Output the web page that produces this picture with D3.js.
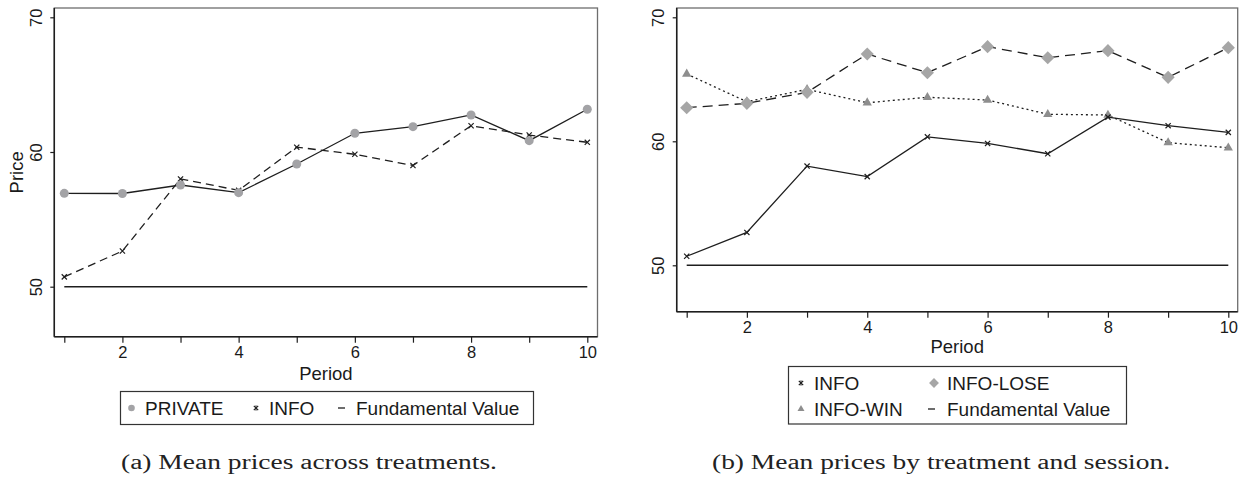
<!DOCTYPE html>
<html>
<head>
<meta charset="utf-8">
<script src="https://cdn.jsdelivr.net/npm/d3@7"></script>
<style>
  html, body { margin: 0; padding: 0; background: #fff; }
  svg { display: block; }
  text { font-family: "Liberation Sans", Arial, Helvetica, sans-serif; fill: #1a1a1a; }
  .cap { font-family: "Liberation Serif", "DejaVu Serif", serif; fill: #222; }
</style>
</head>
<body>
<svg id="chart" width="1252" height="480"></svg>
<script>
// ---------------- data ----------------
const periods = [1, 2, 3, 4, 5, 6, 7, 8, 9, 10];
const privateMeans = [56.93, 56.92, 57.55, 56.98, 59.11, 61.39, 61.88, 62.75, 60.84, 63.17];
const infoMeans    = [50.73, 52.65, 58.00, 57.15, 60.36, 59.83, 59.00, 61.95, 61.26, 60.72];
const infoWinMeans  = [65.43, 63.19, 64.19, 63.11, 63.55, 63.33, 62.18, 62.12, 59.89, 59.48];
const infoLoseMeans = [62.71, 63.06, 63.95, 67.04, 65.53, 67.63, 66.74, 67.31, 65.16, 67.55];
const fundamentalValue = 50;
const yTickValues = [50, 60, 70];
const xTickLabels = [2, 4, 6, 8, 10];
const legendA = ["PRIVATE", "INFO", "Fundamental Value"];
const legendB = ["INFO", "INFO-LOSE", "INFO-WIN", "Fundamental Value"];
const captions = ["(a) Mean prices across treatments.", "(b) Mean prices by treatment and session."];

// ---------------- styles ----------------
const INK = "#1e1e1e";
const GRAY_CIRCLE = "#a3a3a6";
const GRAY_DIAMOND = "#a6a6a6";
const GRAY_TRI = "#8e8e8e";
const LEG_FS = 19;

const svg = d3.select("#chart");

function xMarker(g, x, y, s) {
  g.append("path")
    .attr("d", `M${x - s},${y - s}L${x + s},${y + s}M${x - s},${y + s}L${x + s},${y - s}`)
    .attr("stroke", INK).attr("stroke-width", 1.2).attr("fill", "none");
}

function panel(cfg) {
  const g = svg.append("g");
  const x = d3.scaleLinear().domain([1, 10]).range([cfg.x1, cfg.x10]);
  const y = d3.scaleLinear().domain([50, 70]).range([cfg.y50, cfg.y70]);
  const f = cfg.frame;

  g.append("rect").attr("x", f.l).attr("y", f.t).attr("width", f.r - f.l).attr("height", f.b - f.t)
    .attr("fill", "none").attr("stroke", "#6e6e6e").attr("stroke-width", 1.3);

  const xAxis = d3.axisBottom(x).tickValues(periods).tickSize(6).tickSizeOuter(0)
    .tickFormat(d => xTickLabels.includes(d) ? d : "");
  const xa = g.append("g").attr("transform", `translate(0,${f.b})`).call(xAxis);
  xa.select(".domain").attr("d", `M${f.l},0H${f.r}`).attr("stroke", INK).attr("stroke-width", 1.5);
  xa.selectAll(".tick line").attr("stroke", INK).attr("stroke-width", 1.2);
  xa.selectAll(".tick text").attr("font-size", 16.5).attr("font-family", "Liberation Sans, Arial, sans-serif")
    .attr("fill", "#1a1a1a").attr("y", 10).attr("dy", "0.71em");

  const yAxis = d3.axisLeft(y).tickValues(yTickValues).tickSize(4).tickSizeOuter(0);
  const ya = g.append("g").attr("transform", `translate(${f.l},0)`).call(yAxis);
  ya.select(".domain").attr("d", `M0,${f.t}V${f.b}`).attr("stroke", INK).attr("stroke-width", 1.5);
  ya.selectAll(".tick line").attr("stroke", INK).attr("stroke-width", 1.2);
  ya.selectAll(".tick text")
    .attr("font-size", 16.5).attr("font-family", "Liberation Sans, Arial, sans-serif").attr("fill", "#1a1a1a")
    .attr("x", null).attr("dy", null)
    .attr("text-anchor", "middle")
    .attr("transform", `translate(${-cfg.yLabGap},0) rotate(-90)`);

  g.append("text").attr("x", (f.l + f.r) / 2).attr("y", cfg.periodY)
    .attr("text-anchor", "middle").attr("font-size", 18.5).text("Period");
  if (cfg.priceLabel) {
    g.append("text").attr("transform", `translate(${cfg.priceX},${(f.t + f.b) / 2}) rotate(-90)`)
      .attr("text-anchor", "middle").attr("font-size", 18.5).text("Price");
  }

  g.append("line").attr("x1", x(1)).attr("x2", x(10)).attr("y1", y(fundamentalValue)).attr("y2", y(fundamentalValue))
    .attr("stroke", INK).attr("stroke-width", 1.5);

  return { g, x, y };
}

function series(p, values, dash, marker) {
  const line = d3.line().x((d, i) => p.x(periods[i])).y(d => p.y(d));
  p.g.append("path").datum(values).attr("d", line).attr("fill", "none")
    .attr("stroke", INK).attr("stroke-width", 1.3).attr("stroke-dasharray", dash);
  values.forEach((v, i) => marker(p.g, p.x(periods[i]), p.y(v)));
}

const circle = (g, cx, cy) => g.append("circle").attr("cx", cx).attr("cy", cy).attr("r", 4.5).attr("fill", GRAY_CIRCLE);
const cross = (g, cx, cy) => xMarker(g, cx, cy, 2.6);
const diamond = (g, cx, cy) => g.append("path").attr("d", d3.symbol(d3.symbolDiamond2, 110)()).attr("transform", `translate(${cx},${cy})`).attr("fill", GRAY_DIAMOND);
const tri = (g, cx, cy) => g.append("path").attr("d", d3.symbol(d3.symbolTriangle2, 62)()).attr("transform", `translate(${cx},${cy})`).attr("fill", GRAY_TRI);

// ---------------- panel (a) ----------------
const pa = panel({
  x1: 64.3, x10: 587.3, y50: 286.7, y70: 17.3,
  frame: { l: 54.3, r: 597.5, t: 8, b: 336.7 },
  yLabGap: 12, periodY: 380, priceLabel: true, priceX: 23
});
series(pa, infoMeans, "8,5", cross);
series(pa, privateMeans, null, circle);

function asterisk(g, x, y) {
  xMarker(g, x, y, 2.2);
  g.append("line").attr("x1", x).attr("x2", x).attr("y1", y - 2.6).attr("y2", y + 2.6).attr("stroke", INK).attr("stroke-width", 1);
}

// legend (a)
{
  const lg = svg.append("g");
  lg.append("rect").attr("x", 120.5).attr("y", 391.5).attr("width", 413).attr("height", 33)
    .attr("fill", "none").attr("stroke", "#333").attr("stroke-width", 1.2);
  const cy = 408;
  circle(lg, 131.5, cy).attr("r", 3.3);
  lg.append("text").attr("x", 145).attr("y", cy + 6.8).attr("font-size", LEG_FS).text(legendA[0]);
  asterisk(lg, 256, cy);
  lg.append("text").attr("x", 269).attr("y", cy + 6.8).attr("font-size", LEG_FS).text(legendA[1]);
  lg.append("line").attr("x1", 338).attr("x2", 345).attr("y1", cy).attr("y2", cy).attr("stroke", INK).attr("stroke-width", 1.3);
  lg.append("text").attr("x", 356).attr("y", cy + 6.8).attr("font-size", LEG_FS).text(legendA[2]);
}

// ---------------- panel (b) ----------------
const pb = panel({
  x1: 686.7, x10: 1228.3, y50: 265.3, y70: 17.3,
  frame: { l: 676.7, r: 1237.7, t: 8, b: 311.7 },
  yLabGap: 13, periodY: 353, priceLabel: false
});
series(pb, infoWinMeans, "2,3", tri);
series(pb, infoLoseMeans, "10,6", diamond);
series(pb, infoMeans, null, cross);

// legend (b)
{
  const lg = svg.append("g");
  lg.append("rect").attr("x", 788.5).attr("y", 366.5).attr("width", 338).attr("height", 57.5)
    .attr("fill", "none").attr("stroke", "#333").attr("stroke-width", 1.2);
  const r1 = 383, r2 = 409;
  asterisk(lg, 801, r1);
  lg.append("text").attr("x", 814).attr("y", r1 + 6.8).attr("font-size", LEG_FS).text(legendB[0]);
  diamond(lg, 934, r1).attr("transform", `translate(934,${r1}) scale(0.75)`);
  lg.append("text").attr("x", 947).attr("y", r1 + 6.8).attr("font-size", LEG_FS).text(legendB[1]);
  tri(lg, 801, r2).attr("transform", `translate(801,${r2}) scale(0.75)`);
  lg.append("text").attr("x", 814).attr("y", r2 + 6.8).attr("font-size", LEG_FS).text(legendB[2]);
  lg.append("line").attr("x1", 928).attr("x2", 935).attr("y1", r2).attr("y2", r2).attr("stroke", INK).attr("stroke-width", 1.3);
  lg.append("text").attr("x", 947).attr("y", r2 + 6.8).attr("font-size", LEG_FS).text(legendB[3]);
}

// ---------------- captions ----------------
svg.append("text").attr("class", "cap").attr("x", 121).attr("y", 469).attr("font-size", 20)
  .attr("textLength", 376).attr("lengthAdjust", "spacingAndGlyphs").text(captions[0]);
svg.append("text").attr("class", "cap").attr("x", 712).attr("y", 469).attr("font-size", 20)
  .attr("textLength", 458).attr("lengthAdjust", "spacingAndGlyphs").text(captions[1]);
</script>
</body>
</html>
